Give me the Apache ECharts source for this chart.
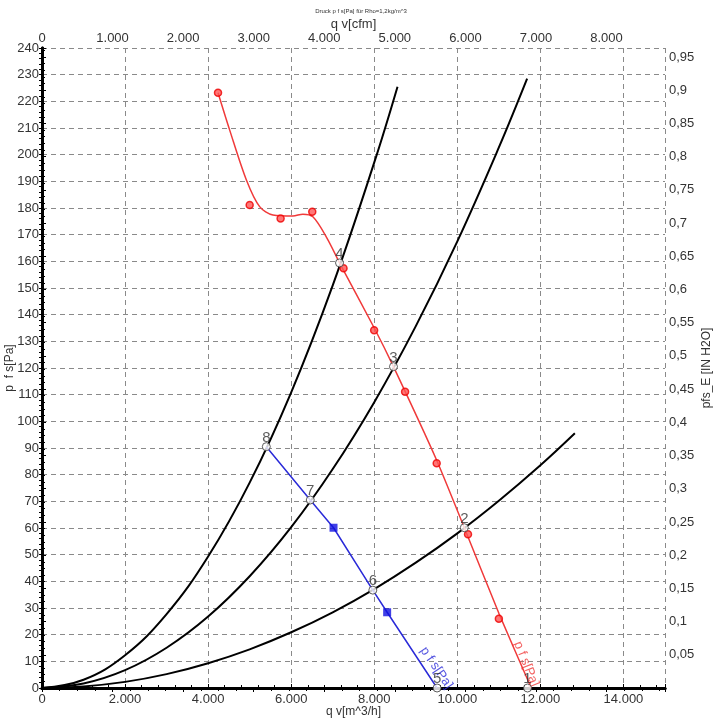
<!DOCTYPE html>
<html>
<head>
<meta charset="utf-8">
<script src="https://cdn.jsdelivr.net/npm/echarts@6/dist/echarts.min.js"></script>
<style>
html,body{margin:0;padding:0;background:#fff;}
#c{width:722px;height:728px;}
</style>
</head>
<body>
<div id="c"></div>
<script>
// ---- data ----
const titleText = 'Druck p f s[Pa] für Rho=1,2kg/m^3';
// system curves (q in m^3/h, p in Pa)
const sys1Q = [0, 1000, 2000, 3000, 4000, 5000, 6000, 7000, 8000, 8560];
const sys1P = [0, 3.1, 12.3, 27.7, 49.3, 77.0, 110.9, 151.0, 197.1, 225.5];
const sys2Q = [0, 1000, 2000, 3000, 4000, 5000, 6000, 7000, 8000, 9000, 10000, 11000, 11680];
const sys2P = [0, 1.7, 6.7, 15.1, 26.8, 41.9, 60.3, 82.1, 107.2, 135.7, 167.5, 202.7, 228.5];
const sys3Q = [0, 1000, 2000, 3000, 4000, 5000, 6000, 7000, 8000, 9000, 10000, 11000, 12000, 12830];
const sys3P = [0, 0.6, 2.3, 5.2, 9.3, 14.5, 20.9, 28.4, 37.1, 47.0, 58.0, 70.2, 83.5, 95.5];
// red fan curve p fs: curved upper part and near-straight lower part
const redTopQ = [4238, 4519, 4921, 5240, 5560, 6041, 6281, 6522, 6844, 7163];
const redTopP = [223.2, 209.2, 190.5, 180.5, 177.4, 177.0, 177.7, 176.7, 169.2, 159.4];
const redLowQ = [7163, 8000, 8462, 9500, 10168, 11000, 11780];
const redLowP = [159.4, 135.0, 120.5, 85.5, 60.1, 28.0, 0];
const redMarkQ = [4238, 5000, 5745, 6507, 7260, 7997, 8742, 9503, 10257, 11000];
const redMarkP = [223.2, 181.1, 176.1, 178.6, 157.4, 134.2, 111.1, 84.3, 57.7, 26.0];
// blue fan curve p fs
const blueQ = [5401, 6459, 7019, 7965, 8310, 9512];
const blueP = [90.5, 70.5, 60.1, 36.7, 28.4, 0];
const blueSqQ = [7019, 8310];
const blueSqP = [60.1, 28.4];
// operating points 1..8
const opNames = ['1', '2', '3', '4', '5', '6', '7', '8'];
const opQ = [11690, 10168, 8462, 7163, 9512, 7965, 6459, 5401];
const opP = [0, 60.1, 120.5, 159.4, 0, 36.7, 70.5, 90.5];
// curve captions
const capText = 'p f s[Pa]';
const capBlue = [9495, 7.5];
const capRed = [11660, 9.0];
// axes
const qMax = 15000, pMax = 240;
const cfmPerM3h = 1 / 1.69901;
const inH2OPerPa = 1 / 249.089;

const zip = (a, b) => a.map((v, i) => [v, b[i]]);
const thou = v => String(Math.round(v)).replace(/\B(?=(\d{3})+(?!\d))/g, '.');
const FONT = 'Liberation Sans, Arial, sans-serif';

const chart = echarts.init(document.getElementById('c'), null, {renderer: 'canvas'});
const axisLineStyle = {color: '#000', width: 3};
const labelStyle = {color: '#333', fontSize: 13, fontFamily: FONT};
const nameStyle = {color: '#333', fontSize: 12, fontFamily: FONT};

chart.setOption({
  animation: false,
  backgroundColor: '#fff',
  title: {text: titleText, left: 'center', top: 3, textStyle: {fontSize: 6, fontWeight: 'normal', color: '#333', fontFamily: FONT}},
  grid: {left: 42, right: 57, top: 48, bottom: 40, containLabel: false, outerBoundsMode: 'none'},
  xAxis: [
    {type: 'value', position: 'bottom', min: 0, max: qMax, interval: 2000,
     name: 'q v[m^3/h]', nameLocation: 'middle', nameGap: 18, nameMoveOverlap: false, nameTextStyle: nameStyle,
     axisLine: {lineStyle: axisLineStyle}, axisTick: {inside: true, length: 4, lineStyle: {color: '#000'}},
     minorTick: {show: true, splitNumber: 5, length: 3, lineStyle: {color: '#000'}},
     splitLine: {show: true, lineStyle: {color: '#8a8a8a', type: [5, 4], width: 1}},
     axisLabel: Object.assign({margin: 5, formatter: v => (v % 2000 === 0 && v <= 14000) ? thou(v) : ''}, labelStyle)},
    {type: 'value', position: 'top', min: 0, max: qMax * cfmPerM3h, interval: 1000,
     name: 'q v[cfm]', nameLocation: 'middle', nameGap: 17, nameMoveOverlap: false, nameTextStyle: {color: '#333', fontSize: 13, fontFamily: FONT},
     axisLine: {lineStyle: axisLineStyle}, axisTick: {inside: true, length: 4, lineStyle: {color: '#000'}},
     minorTick: {show: true, splitNumber: 4, length: 3, lineStyle: {color: '#000'}},
     splitLine: {show: false},
     axisLabel: Object.assign({margin: 3, formatter: v => (Math.abs(v % 1000) < 1e-6 && v <= 8000) ? thou(v) : ''}, labelStyle)}
  ],
  yAxis: [
    {type: 'value', position: 'left', min: 0, max: pMax, interval: 10,
     name: 'p  f s[Pa]', nameLocation: 'middle', nameGap: 26, nameMoveOverlap: false, nameRotate: 90, nameTextStyle: nameStyle,
     axisLine: {show: true, lineStyle: axisLineStyle}, axisTick: {show: true, length: 3, lineStyle: {color: '#000'}},
     minorTick: {show: true, splitNumber: 5, length: 3, lineStyle: {color: '#000'}},
     splitLine: {show: true, lineStyle: {color: '#8a8a8a', type: [5, 4], width: 1}},
     axisLabel: Object.assign({margin: 3}, labelStyle)},
    {type: 'value', position: 'right', min: 0, max: pMax * inH2OPerPa, interval: 0.05,
     name: 'pfs_E [IN H2O]', nameLocation: 'middle', nameGap: 36, nameMoveOverlap: false, nameRotate: 90, nameTextStyle: nameStyle,
     axisLine: {show: true, lineStyle: axisLineStyle}, axisTick: {show: true, length: 4, lineStyle: {color: '#000'}},
     minorTick: {show: true, splitNumber: 5, length: 3, lineStyle: {color: '#000'}},
     splitLine: {show: false},
     axisLabel: Object.assign({margin: 4, formatter: v => {
       const k = v / 0.05;
       if (Math.abs(k - Math.round(k)) > 1e-6 || v < 0.01 || v > 0.951) return '';
       return String(parseFloat(v.toFixed(2))).replace('.', ',');
     }}, labelStyle)}
  ],
  series: [
    {type: 'line', data: zip(sys1Q, sys1P), smooth: 0.4, symbol: 'none', lineStyle: {color: '#000', width: 2}, z: 2},
    {type: 'line', data: zip(sys2Q, sys2P), smooth: 0.4, symbol: 'none', lineStyle: {color: '#000', width: 2}, z: 2},
    {type: 'line', data: zip(sys3Q, sys3P), smooth: 0.4, symbol: 'none', lineStyle: {color: '#000', width: 2}, z: 2},
    {type: 'line', data: zip(redTopQ, redTopP), smooth: 0.3, symbol: 'none', lineStyle: {color: '#f03a3a', width: 1.5}, z: 3},
    {type: 'line', data: zip(redLowQ, redLowP), smooth: 0.2, symbol: 'none', lineStyle: {color: '#f03a3a', width: 1.5}, z: 3},
    {type: 'scatter', data: zip(redMarkQ, redMarkP), symbol: 'circle', symbolSize: 7,
     itemStyle: {color: '#f55', borderColor: '#e00', borderWidth: 1.5}, z: 4},
    {type: 'line', data: zip(blueQ, blueP), symbol: 'none', lineStyle: {color: '#2a2ad8', width: 1.5}, z: 3},
    {type: 'scatter', data: zip(blueSqQ, blueSqP), symbol: 'rect', symbolSize: 8, itemStyle: {color: '#1010e0'}, z: 4},
    {type: 'scatter', data: opQ.map((q, i) => ({value: [q, opP[i]], name: opNames[i]})),
     symbol: 'circle', symbolSize: 8, itemStyle: {color: '#fff', borderColor: '#333', borderWidth: 1},
     label: {show: true, position: 'top', distance: -3, formatter: p => p.name, color: '#333', fontSize: 15, fontFamily: FONT},
     z: 6},
    {type: 'scatter', data: [capBlue], symbolSize: 0, silent: true,
     label: {show: true, position: 'inside', formatter: capText, rotate: -56, color: '#2a2ad8', fontSize: 13, fontFamily: FONT}, z: 5},
    {type: 'scatter', data: [capRed], symbolSize: 0, silent: true,
     label: {show: true, position: 'inside', formatter: capText, rotate: -68, color: '#f03a3a', fontSize: 13, fontFamily: FONT}, z: 5}
  ]
});
</script>
</body>
</html>
